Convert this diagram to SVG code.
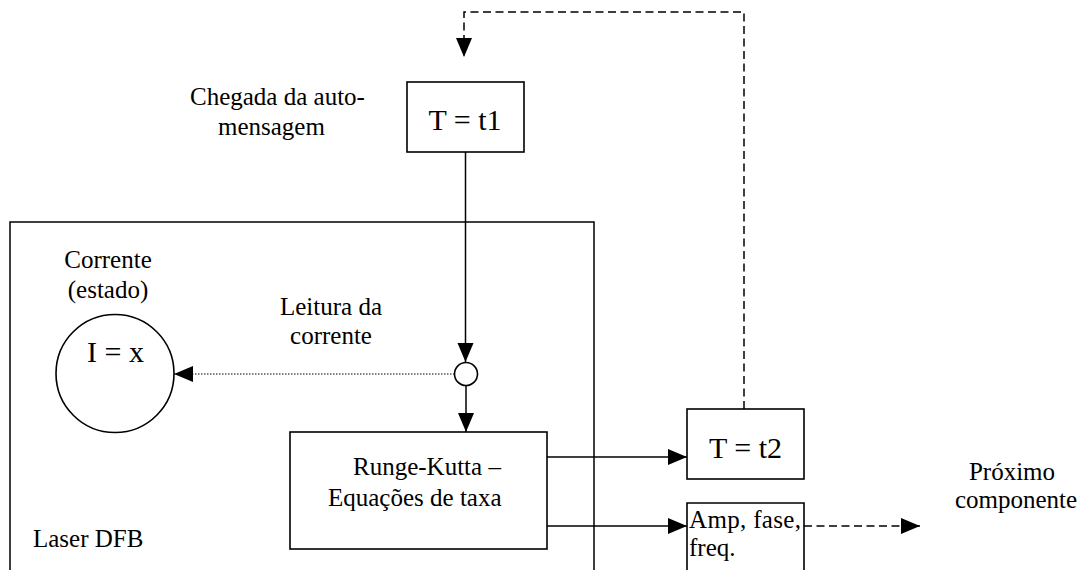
<svg xmlns="http://www.w3.org/2000/svg" width="1085" height="570" viewBox="0 0 1085 570">
  <style>
    text { font-family: "Liberation Serif", "Times New Roman", serif; fill: #000; }
    .lbl { font-size: 25px; }
    .big { font-size: 30px; }
    .box { fill: #fff; stroke: #000; stroke-width: 1.6; }
    .solid { fill: none; stroke: #000; stroke-width: 1.5; }
    .dash { fill: none; stroke: #000; stroke-width: 1.5; stroke-dasharray: 8 4.5; }
    .dot { fill: none; stroke: #000; stroke-width: 1; stroke-dasharray: 1.5 1.5; }
  </style>
  <defs>
    <marker id="arrow" markerUnits="userSpaceOnUse" markerWidth="20" markerHeight="18" viewBox="0 0 20 18" refX="19" refY="9" orient="auto">
      <path d="M0,1 L19,9 L0,17 Z" fill="#000"/>
    </marker>
  </defs>

  <rect width="1085" height="570" fill="#fff"/>

  <!-- Laser DFB enclosure (runs off the bottom edge) -->
  <g id="laser-dfb">
    <path class="solid" d="M10,580 L10,222 L594,222 L594,580"/>
    <text class="lbl" x="33" y="547">Laser DFB</text>
  </g>

  <!-- self-message arrival -->
  <g id="chegada-label">
    <text class="lbl" x="190" y="105">Chegada da auto-</text>
    <text class="lbl" x="218" y="135">mensagem</text>
  </g>

  <g id="t1">
    <rect class="box" x="407" y="82" width="117" height="70"/>
    <text class="big" x="465" y="130" text-anchor="middle">T = t1</text>
  </g>

  <!-- current state -->
  <g id="corrente">
    <text class="lbl" x="108" y="268" text-anchor="middle">Corrente</text>
    <text class="lbl" x="108" y="298" text-anchor="middle">(estado)</text>
    <circle cx="115" cy="373.5" r="59" fill="#fff" stroke="#000" stroke-width="1.6"/>
    <text class="big" x="115.5" y="362" text-anchor="middle">I = x</text>
  </g>

  <g id="leitura-label">
    <text class="lbl" x="331" y="315" text-anchor="middle">Leitura da</text>
    <text class="lbl" x="331" y="344" text-anchor="middle">corrente</text>
  </g>

  <g id="junction">
    <circle cx="466" cy="374" r="11.5" fill="#fff" stroke="#000" stroke-width="1.6"/>
  </g>

  <g id="runge-kutta">
    <rect class="box" x="290" y="432" width="257" height="117"/>
    <text class="lbl" x="353" y="475">Runge-Kutta –</text>
    <text class="lbl" x="328" y="506">Equações de taxa</text>
  </g>

  <g id="t2">
    <rect class="box" x="687" y="409" width="117" height="70"/>
    <text class="big" x="745.5" y="458" text-anchor="middle">T = t2</text>
  </g>

  <!-- optical output box (runs off the bottom edge) -->
  <g id="saida">
    <path class="box" d="M687,580 L687,503 L804,503 L804,580"/>
    <text class="lbl" x="689" y="528" textLength="112" lengthAdjust="spacing">Amp, fase,</text>
    <text class="lbl" x="689" y="556">freq.</text>
  </g>

  <g id="proximo-label">
    <text class="lbl" x="1012" y="480" text-anchor="middle">Próximo</text>
    <text class="lbl" x="1016" y="508" text-anchor="middle">componente</text>
  </g>

  <g id="connectors">
    <!-- feedback: t2 schedules next self-message -->
    <path class="dash" d="M744,409 L744,12 L464,12 L464,57" marker-end="url(#arrow)"/>
    <path class="solid" d="M465.5,152 L465.5,362" marker-end="url(#arrow)"/>
    <path class="solid" d="M466,385.5 L466,432" marker-end="url(#arrow)"/>
    <path class="dot" d="M454.5,374 L174,374" marker-end="url(#arrow)"/>
    <path class="solid" d="M547,457 L687,457" marker-end="url(#arrow)"/>
    <path class="solid" d="M547,526 L687,526" marker-end="url(#arrow)"/>
    <path class="dash" d="M804,526 L920,526" marker-end="url(#arrow)"/>
  </g>
</svg>
